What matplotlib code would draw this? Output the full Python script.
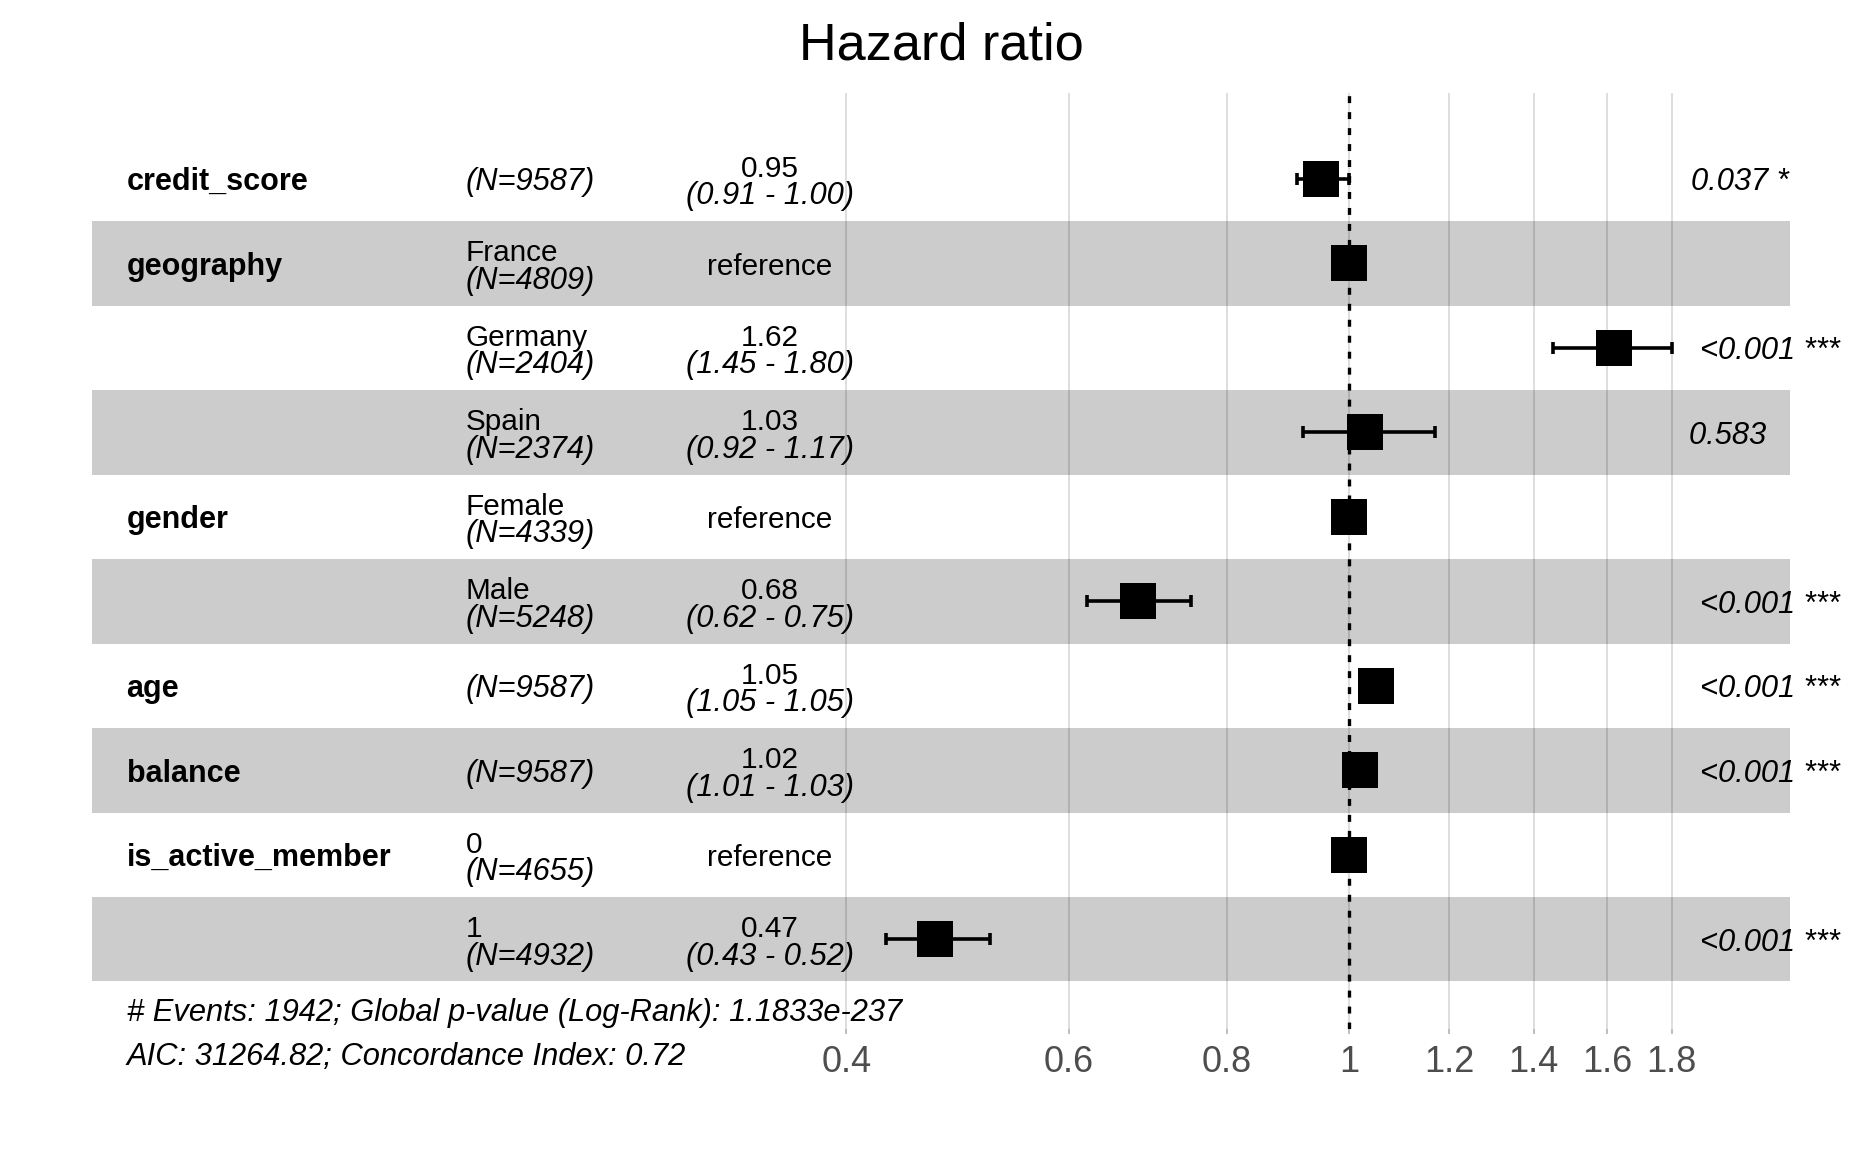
import matplotlib
matplotlib.use('Agg')
import matplotlib.pyplot as plt
import matplotlib.transforms as mtransforms
from matplotlib.ticker import NullLocator
import numpy as np

plt.rcParams['font.family'] = ['Liberation Sans', 'DejaVu Sans']
plt.rcParams['lines.scale_dashes'] = False

# 数据
var_names = ['credit_score', 'geography', '', '', 'gender', '', 'age', 'balance', 'is_active_member', '']
levels = ['', 'France', 'Germany', 'Spain', 'Female', 'Male', '', '', '0', '1']
n_obs = [9587, 4809, 2404, 2374, 4339, 5248, 9587, 9587, 4655, 4932]
hr = [0.95, 1.00, 1.62, 1.03, 1.00, 0.68, 1.05, 1.02, 1.00, 0.47]
ci_low = [0.91, np.nan, 1.45, 0.92, np.nan, 0.62, 1.05, 1.01, np.nan, 0.43]
ci_high = [1.00, np.nan, 1.80, 1.17, np.nan, 0.75, 1.05, 1.03, np.nan, 0.52]
is_ref = [False, True, False, False, True, False, False, False, True, False]
p_labels = ['0.037 *', '', '<0.001 ***', '0.583 ', '', '<0.001 ***', '<0.001 ***', '<0.001 ***', '', '<0.001 ***']
x_ticks = [0.4, 0.6, 0.8, 1, 1.2, 1.4, 1.6, 1.8]
x_ticklabels = ['0.4', '0.6', '0.8', '1', '1.2', '1.4', '1.6', '1.8']
footer = ['# Events: 1942; Global p-value (Log-Rank): 1.1833e-237',
          'AIC: 31264.82; Concordance Index: 0.72']

rows = np.arange(1, len(hr) + 1)
hr = np.array(hr)
ci_low = np.array(ci_low)
ci_high = np.array(ci_high)
is_ref = np.array(is_ref)

W, H = 1872, 1152
fig = plt.figure(figsize=(W / 100, H / 100), dpi=100)
ax = fig.add_axes([91.9 / W, 1 - 1029.2 / H, (1790 - 91.9) / W, (1029.2 - 93.1) / H])
ax.set_xscale('log')
ax.set_xlim(0.1011, 2.2334)
ax.set_ylim(11.065, -0.016)
ax.set_yticks([])
ax.set_xticks(x_ticks)
ax.set_xticklabels(x_ticklabels)
ax.xaxis.set_minor_locator(NullLocator())
for s in ax.spines.values():
    s.set_visible(False)
ax.tick_params(axis='x', labelsize=26, labelcolor='#4D4D4D', color='#B3B3B3',
               length=3.6, width=1.2, pad=8)

# 网格线 + 斑马条
for tk in x_ticks:
    ax.axvline(tk, color='#DEDEDE', lw=1.4, zorder=0)
for r in rows:
    if r % 2 == 0:
        ax.axhspan(r - 0.5, r + 0.5, color='black', alpha=0.2, lw=0, zorder=1)

# 误差线和方块
m = ~is_ref
ax.errorbar(hr[m], rows[m], xerr=[hr[m] - ci_low[m], ci_high[m] - hr[m]],
            fmt='none', ecolor='black', elinewidth=2.6, capsize=4.6, capthick=2.6, zorder=3)
ax.plot(hr, rows, 's', ms=26.6, color='black', mew=0, zorder=4)
ax.axvline(1, color='black', lw=2.4, linestyle=(0, (5, 6.5)), zorder=5)

# 文本列
var_x, lvl_x, est_x, p_x = 0.1077, 0.1999, 0.348, 1.80
fs_n, fs_i, fs_b = 21.4, 22.2, 22
dy_c, dy_top, dy_bot = -2.4, 1.6, -18.3  # 文本垂直偏移 (points)


def put(x, y, s, dy, **kw):
    return ax.annotate(s, (x, y), xytext=(0, dy), textcoords='offset points',
                       annotation_clip=False, **kw)


p_texts = []
for i, r in enumerate(rows):
    if var_names[i]:
        put(var_x, r, var_names[i], dy_c, fontsize=fs_b, fontweight='bold', ha='left', va='center')
    n_txt = f'(N={n_obs[i]})'
    if levels[i]:
        put(lvl_x, r, levels[i], dy_top, fontsize=fs_n, ha='left', va='baseline')
        put(lvl_x, r, n_txt, dy_bot, fontsize=fs_i, style='italic', ha='left', va='baseline')
    else:
        put(lvl_x, r, n_txt, dy_c, fontsize=fs_i, style='italic', ha='left', va='center')
    if is_ref[i]:
        put(est_x, r, 'reference', dy_c, fontsize=fs_n, ha='center', va='center')
    else:
        put(est_x, r, f'{hr[i]:.2f}', dy_top, fontsize=fs_n, ha='center', va='baseline')
        put(est_x, r, f'({ci_low[i]:.2f} - {ci_high[i]:.2f})', dy_bot, fontsize=fs_i,
            style='italic', ha='center', va='baseline')
    if p_labels[i]:
        p_texts.append(put(p_x, r, p_labels[i], dy_c, fontsize=fs_i, style='italic',
                           ha='left', va='center'))

# 页脚
put(var_x, 10.83, footer[0], dy_c, fontsize=fs_i, style='italic', ha='left', va='center')
put(var_x, 11.35, footer[1], dy_c, fontsize=fs_i, style='italic', ha='left', va='center')

fig.text(941.7 / W, 1 - 60 / H, 'Hazard ratio', fontsize=37.6, ha='center', va='baseline')

# p 值右移 0.2 倍宽度 (hjust = -0.2)
fig.canvas.draw()
for t in p_texts:
    w = t.get_window_extent().width
    t.xyann = (w * 0.2 * 72 / fig.dpi, dy_c)

fig.savefig('out.png', dpi=100)
